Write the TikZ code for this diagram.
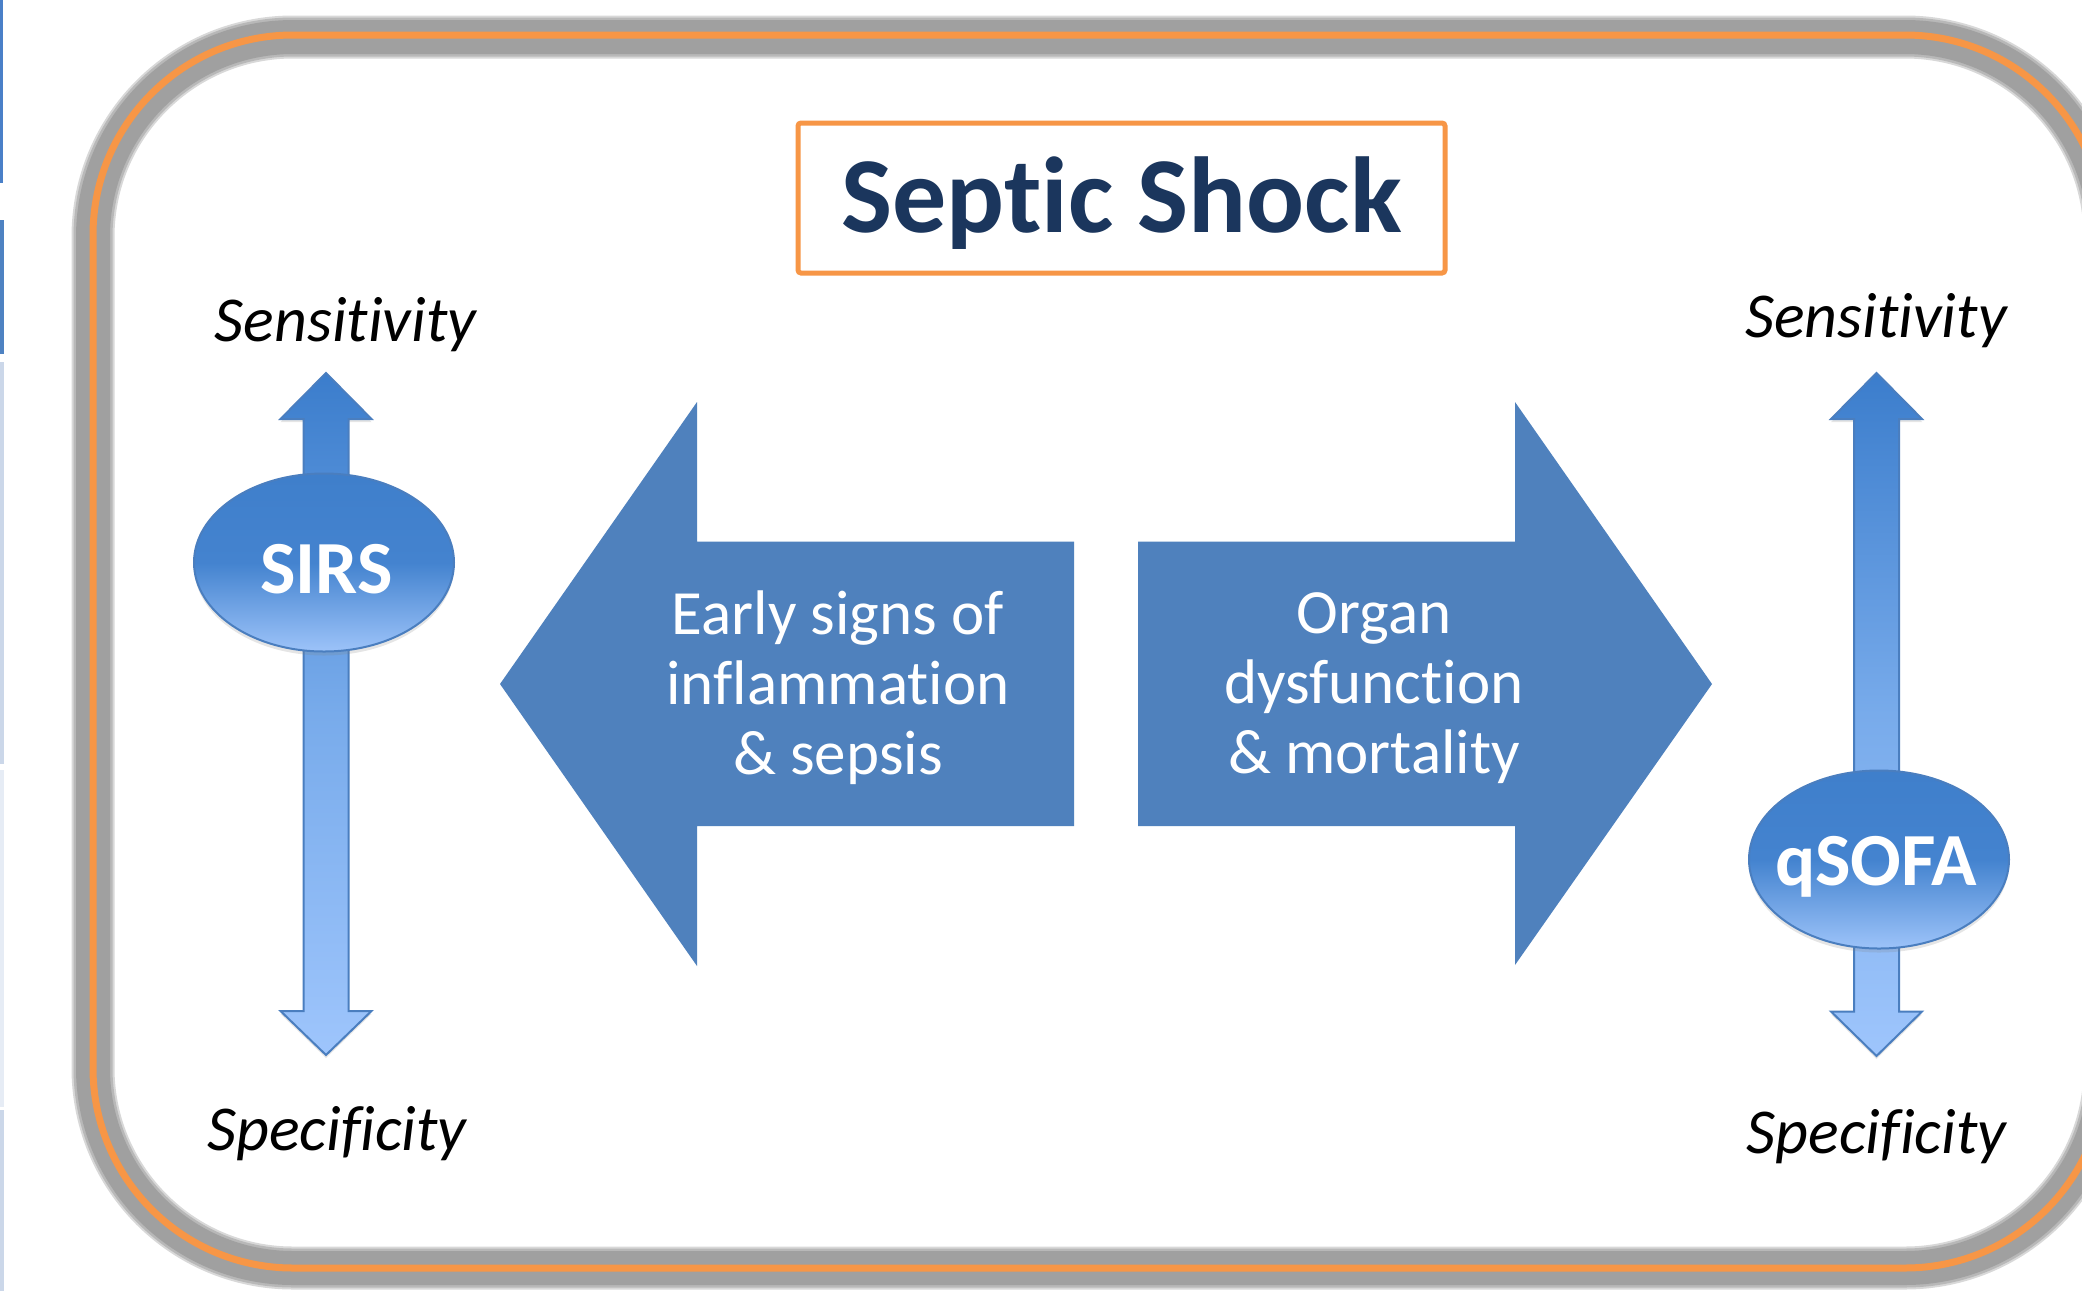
\documentclass[tikz,border=0pt]{standalone}
\usepackage{fontspec}
\setmainfont{Carlito}[Ligatures={NoCommon}]
\usetikzlibrary{shapes.geometric,shadows}
\definecolor{arrowblue}{HTML}{4F81BD}
\definecolor{frameorange}{HTML}{F79646}
\definecolor{titlenavy}{HTML}{1B365D}
\definecolor{bandgray}{HTML}{A0A0A0}
\definecolor{bandgrayB}{HTML}{B8B8B8}
\definecolor{bandgrayC}{HTML}{D8D8D8}
\definecolor{vtop}{HTML}{3B7DCC}
\definecolor{vmid}{HTML}{78ABEB}
\definecolor{vbot}{HTML}{9EC5FC}
\definecolor{etop}{HTML}{3F7FCB}
\definecolor{emid}{HTML}{4483CF}
\definecolor{ebot}{HTML}{9CC3F9}
\definecolor{vline}{HTML}{4A7EBF}
\definecolor{stripA}{HTML}{4A80C8}
\definecolor{stripB}{HTML}{4E82C2}
\definecolor{stripC}{HTML}{CBD7E9}
\definecolor{stripD}{HTML}{E6ECF5}
\begin{document}
\begin{tikzpicture}[x=0.5pt,y=-0.5pt,
  bigarrow/.style={fill=arrowblue},
  vertarrow/.style={top color=vtop, bottom color=vbot, middle color=vmid,
    draw=vline, line width=1pt, line join=miter,
    drop shadow={opacity=0.2, shadow xshift=0pt, shadow yshift=-1.5pt}},
  scoreshape/.style={ellipse, top color=etop, bottom color=ebot, middle color=emid,
    draw=vline, line width=1pt, minimum width=130pt, minimum height=89pt, inner sep=0pt,
    drop shadow={opacity=0.2, shadow xshift=0pt, shadow yshift=-2pt}},
  scoretext/.style={text=white, inner sep=0pt, anchor=base,
    font=\fontsize{37.5pt}{40pt}\selectfont\bfseries},
  titlebox/.style={draw=frameorange, line width=2.5pt, rounded corners=1.5pt,
    minimum width=323.5pt, minimum height=75pt, inner sep=0pt, text=titlenavy,
    font=\fontsize{54pt}{60pt}\selectfont\bfseries, text height=34.7pt, text depth=0pt},
  arrowtext/.style={align=center, text=white, inner sep=0pt,
    font=\fontsize{31.5pt}{35pt}\selectfont},
  axislabel/.style={text=black, inner sep=0pt, anchor=base,
    font=\fontsize{32pt}{36pt}\selectfont\itshape}
]
\useasboundingbox (0,0) rectangle (2082,1291);
\fill[white] (0,0) rectangle (2082,1291);
\begin{scope}
\clip (0,0) rectangle (2082,1291);
% strips at the left edge
\fill[stripA] (0,0) rectangle (2.5,183);
\fill[stripB] (0,220) rectangle (3.5,354);
\fill[stripC] (0,362) rectangle (3.5,764);
\fill[stripD] (0,770) rectangle (3.5,1107);
\fill[stripC] (0,1110) rectangle (3.5,1291);
% outer frame with soft gray band
\draw[bandgrayC, line width=21.5pt, rounded corners=100pt] (93,37) rectangle (2105,1268);
\draw[bandgrayB, line width=19.5pt, rounded corners=100pt] (93,37) rectangle (2105,1268);
\draw[bandgray, line width=17pt, rounded corners=100pt] (93,37) rectangle (2105,1268);
\draw[frameorange, line width=3.5pt, rounded corners=100pt] (93,35) rectangle (2105,1268);
\end{scope}
% title
\node[titlebox] (title) at (1121.5,198) {Septic Shock};
% big arrows
\path[bigarrow] (500,684) -- (697,402) -- (697,541.5) -- (1074,541.5) -- (1074,826)
  -- (697,826) -- (697,966) -- cycle;
\path[bigarrow] (1138,541.5) -- (1515,541.5) -- (1515,402) -- (1712,684) -- (1515,965)
  -- (1515,826) -- (1138,826) -- cycle;
\node[arrowtext] (early) at (838,688) {Early signs of\\inflammation\\\& sepsis};
\node[arrowtext] (organ) at (1374,688) {Organ\\dysfunction\\\& mortality};
% vertical double arrows
\path[vertarrow] (326,373) -- (371.5,419) -- (348.5,419) -- (348.5,1011) -- (371.5,1011)
  -- (326,1055) -- (280.5,1011) -- (303.5,1011) -- (303.5,419) -- (280.5,419) -- cycle;
\path[vertarrow] (1876.5,373) -- (1922,419) -- (1899,419) -- (1899,1011.5) -- (1922,1011.5)
  -- (1876.5,1056) -- (1831,1011.5) -- (1854,1011.5) -- (1854,419) -- (1831,419) -- cycle;
% score ellipses
\node[scoreshape] (sirsshape) at (324,562.5) {};
\node[scoretext] (sirs) at (326.5,593) {SIRS};
\node[scoreshape] (qsofashape) at (1879,859.5) {};
\node[scoretext] (qsofa) at (1876,885) {qSOFA};
% axis labels
\node[axislabel] (sensL) at (345.5,341) {Sensitivity};
\node[axislabel] (specL) at (337,1150) {Specificity};
\node[axislabel] (sensR) at (1876,337) {Sensitivity};
\node[axislabel] (specR) at (1876.5,1153) {Specificity};
\end{tikzpicture}
\end{document}
